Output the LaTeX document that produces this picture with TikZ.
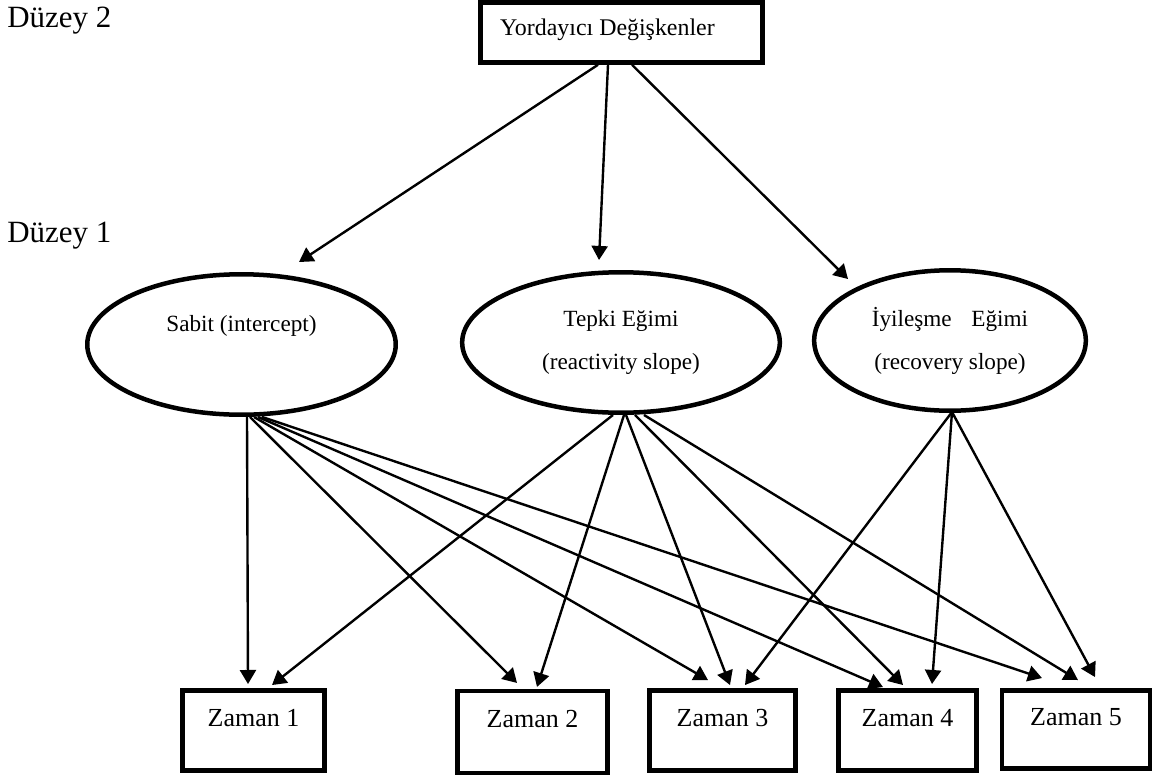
\documentclass[tikz,border=0pt]{standalone}
\usepackage{fontspec}
\setmainfont{Liberation Serif}
\usetikzlibrary{shapes.geometric,arrows.meta,calc}

\tikzset{
    level/.style={anchor=base west, inner sep=0pt, font=\fontsize{22pt}{26pt}\selectfont},
    predbox/.style={draw, rectangle, line width=3.2pt, inner sep=0pt, font=\fontsize{17pt}{20pt}\selectfont, text height=11.8pt, text depth=7.8pt},
    timebox/.style={draw, rectangle, line width=3.2pt, inner sep=0pt, font=\fontsize{18.5pt}{22pt}\selectfont, text height=12.25pt, text depth=18.5pt},
    oval/.style={draw, ellipse, line width=3.2pt, inner sep=0pt, minimum height=3.51cm, align=center, font=\fontsize{16.5pt}{30.6pt}\selectfont},
    link/.style={->, line width=1.7pt}
}

\begin{document}
\begin{tikzpicture}[x=0.025cm, y=-0.025cm, >={Triangle[length=10pt,width=11.4pt]}]
    \useasboundingbox (0,0) rectangle (1173,778);

    \node[level] (lvltwo) at (7,27) {Düzey 2};
    \node[level] (lvlone) at (7,242) {Düzey 1};

    \node[predbox, minimum width=7.04cm, minimum height=1.5cm] (pred) at (621.5,32.5) {Yordayıcı Değişkenler\kern20pt};

    \node[oval, minimum width=7.71cm] (sab) at (241.5,344.5) {Sabit (intercept)\\ \mbox{}};
    \node[oval, minimum width=7.94cm] (tep) at (621,342.5) {Tepki Eğimi\\(reactivity slope)};
    \node[oval, minimum width=6.79cm] (iyi) at (950,340.5) {İyileşme\hspace{14pt}Eğimi\\(recovery slope)};

    \node[timebox, minimum width=3.56cm, minimum height=2.01cm] (z1) at (253.5,730.5) {Zaman 1};
    \node[timebox, minimum width=3.76cm, minimum height=2.04cm] (z2) at (532.5,732) {Zaman 2};
    \node[timebox, minimum width=3.66cm, minimum height=2.01cm] (z3) at (722.5,730.5) {Zaman 3};
    \node[timebox, minimum width=3.46cm, minimum height=2.01cm] (z4) at (907.5,730.5) {Zaman 4};
    \node[timebox, minimum width=3.69cm, minimum height=1.96cm] (z5) at (1076,729.5) {Zaman 5};

    % level 2 to level 1
    \draw[link] ($(pred.south)+(-23.5,0)$) -- ($(sab.center)+(57.5,-82.5)$);
    \draw[link] ($(pred.south)+(-13.5,0)$) -- ($(tep.center)+(-22,-82.5)$);
    \draw[link] ($(pred.south)+(10.5,0)$) -- ($(iyi.center)+(-102,-61.5)$);

    % intercept
    \draw[link] ($(sab.south)+(5.5,0)$) -- ($(z1.north)+(-5.5,-4)$);
    \draw[link] ($(sab.south)+(8.5,0)$) -- ($(z2.north)+(-15.5,-6)$);
    \draw[link] ($(sab.south)+(12.5,0)$) -- ($(z3.north)+(-14.5,-8)$);
    \draw[link] ($(sab.south)+(16.5,0)$) -- ($(z4.north)+(-24.5,-1)$);
    \draw[link] ($(sab.south)+(20.5,0)$) -- ($(z5.north)+(-34,-10)$);

    % reactivity slope
    \draw[link] ($(tep.south)+(-8,0)$) -- ($(z1.north)+(18.5,-3)$);
    \draw[link] ($(tep.south)+(3,0)$) -- ($(z2.north)+(4.5,-2)$);
    \draw[link] ($(tep.south)+(5,0)$) -- ($(z3.north)+(7.5,-3)$);
    \draw[link] ($(tep.south)+(14,0)$) -- ($(z4.north)+(-4.5,-3)$);
    \draw[link] ($(tep.south)+(23,0)$) -- ($(z5.north)+(2,-8)$);

    % recovery slope
    \draw[link] ($(iyi.south)+(2,-1)$) -- ($(z3.north)+(22.5,-3)$);
    \draw[link] ($(iyi.south)+(2,-1)$) -- ($(z4.north)+(24.5,-4)$);
    \draw[link] ($(iyi.south)+(2,-1)$) -- ($(z5.north)+(19,-11)$);
\end{tikzpicture}
\end{document}
